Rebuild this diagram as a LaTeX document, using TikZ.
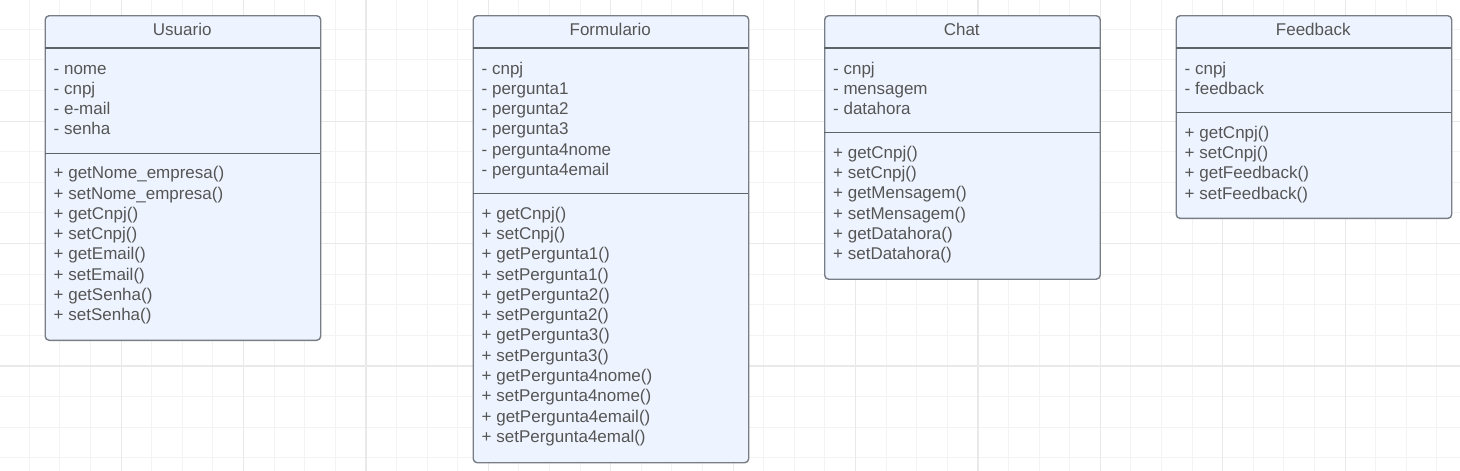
\documentclass[tikz,border=0pt]{standalone}
\usepackage{fontspec}
\setmainfont{Liberation Sans}
\definecolor{boxfill}{HTML}{EEF4FF}
\definecolor{bordercol}{HTML}{787D86}
\definecolor{sepcol}{HTML}{5F6368}
\definecolor{textcol}{HTML}{555555}
\definecolor{gridminor}{HTML}{F3F3F3}
\definecolor{gridmajor}{HTML}{E9E9E9}
\tikzset{
  cls/.style={draw=bordercol, line width=1.4pt, fill=boxfill, rounded corners=4pt,
    rectangle, anchor=north west, inner sep=0pt, minimum width=275.5pt},
  sepline/.style={draw=sepcol, line width=1.3pt},
  txt/.style={anchor=base west, inner sep=0pt, text=textcol, font=\fontsize{17}{20}\selectfont},
  ttl/.style={anchor=base, inner sep=0pt, text=textcol, font=\fontsize{17}{20}\selectfont},
  gminor/.style={draw=gridminor, line width=1pt},
  gmajor/.style={draw=gridmajor, line width=1.2pt}
}
\begin{document}
\begin{tikzpicture}[x=1pt,y=-1pt]
\useasboundingbox[fill=white] (0,0) rectangle (1460,471);
% grid
\foreach \n in {1,...,47} {
  \pgfmathsetmacro\xx{30.6*\n-1.3}
  \draw[gminor] (\xx,0) -- (\xx,471);
}
\foreach \n in {1,...,15} {
  \pgfmathsetmacro\yy{30.6*\n-1.3}
  \draw[gminor] (0,\yy) -- (1460,\yy);
}
\foreach \n in {4,8,...,44} {
  \pgfmathsetmacro\xx{30.6*\n-1.3}
  \draw[gmajor] (\xx,0) -- (\xx,471);
}
\foreach \n in {4,8,12} {
  \pgfmathsetmacro\yy{30.6*\n-1.3}
  \draw[gmajor] (0,\yy) -- (1460,\yy);
}

% ---------- Usuario ----------
\node[cls, minimum height=324.6pt] (usuario) at (44.5,15) {};
\draw[sepline] (44.5,48) -- (320,48);
\draw[sepline] (44.5,153.2) -- (320,153.2);
\node[ttl] (usuarioT) at (182.25,35) {Usuario};
\foreach \t [count=\i from 0] in {- nome, - cnpj, - e-mail, - senha}
  \node[txt] (ua\i) at (53.5, 74+20.3*\i) {\t};
\foreach \t [count=\i from 0] in {+ getNome\_empresa(), + setNome\_empresa(), + getCnpj(), + setCnpj(), + getEmail(), + setEmail(), + getSenha(), + setSenha()}
  \node[txt] (um\i) at (53.5, 178.7+20.3*\i) {\t};

% ---------- Formulario ----------
\node[cls, minimum height=447pt] (form) at (472.5,15) {};
\draw[sepline] (472.5,48) -- (748,48);
\draw[sepline] (472.5,193.6) -- (748,193.6);
\node[ttl] (formT) at (610.25,35) {Formulario};
\foreach \t [count=\i from 0] in {- cnpj, - pergunta1, - pergunta2, - pergunta3, - pergunta4nome, - pergunta4email}
  \node[txt] (fa\i) at (481.5, 74+20.3*\i) {\t};
\foreach \t [count=\i from 0] in {+ getCnpj(), + setCnpj(), + getPergunta1(), + setPergunta1(), + getPergunta2(), + setPergunta2(), + getPergunta3(), + setPergunta3(), + getPergunta4nome(), + setPergunta4nome(), + getPergunta4email(), + setPergunta4emal()}
  \node[txt] (fm\i) at (481.5, 219.1+20.3*\i) {\t};

% ---------- Chat ----------
\node[cls, minimum height=263.5pt] (chat) at (824,15) {};
\draw[sepline] (824,48) -- (1099.5,48);
\draw[sepline] (824,132.8) -- (1099.5,132.8);
\node[ttl] (chatT) at (961.75,35) {Chat};
\foreach \t [count=\i from 0] in {- cnpj, - mensagem, - datahora}
  \node[txt] (ca\i) at (833, 74+20.3*\i) {\t};
\foreach \t [count=\i from 0] in {+ getCnpj(), + setCnpj(), + getMensagem(), + setMensagem(), + getDatahora(), + setDatahora()}
  \node[txt] (cm\i) at (833, 158.3+20.3*\i) {\t};

% ---------- Feedback ----------
\node[cls, minimum height=202.7pt] (feed) at (1175.5,15) {};
\draw[sepline] (1175.5,48) -- (1451,48);
\draw[sepline] (1175.5,112.6) -- (1451,112.6);
\node[ttl] (feedT) at (1313.25,35) {Feedback};
\foreach \t [count=\i from 0] in {- cnpj, - feedback}
  \node[txt] (fba\i) at (1184.5, 74+20.3*\i) {\t};
\foreach \t [count=\i from 0] in {+ getCnpj(), + setCnpj(), + getFeedback(), + setFeedback()}
  \node[txt] (fbm\i) at (1184.5, 138.1+20.3*\i) {\t};
\end{tikzpicture}
\end{document}
